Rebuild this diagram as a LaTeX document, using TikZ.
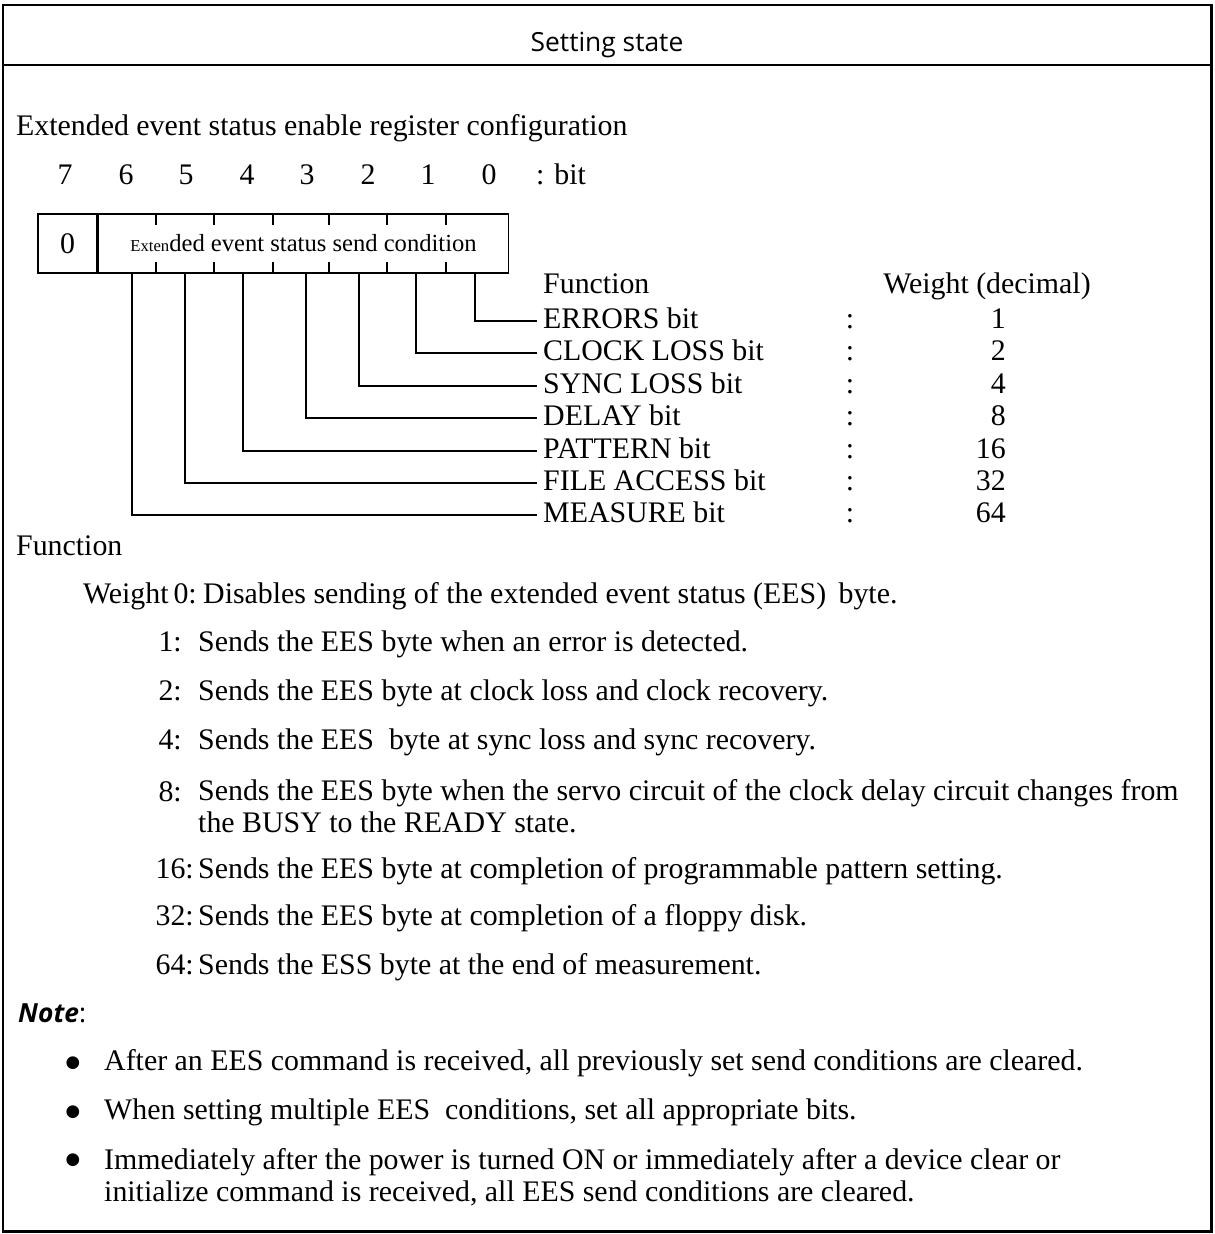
\documentclass[tikz,border=0pt]{standalone}
\usepackage{fontspec}
\setmainfont{Liberation Serif}
\newfontfamily\headfont{Open Sans}
\newfontfamily\symfont{DejaVu Sans}
\usetikzlibrary{positioning}

\begin{document}
\begin{tikzpicture}[x=0.02cm,y=-0.02cm,
  font=\fontsize{17}{19}\selectfont,
  frame/.style={line width=1.7pt},
  cell/.style={draw,line width=0.9pt,minimum height=1.18cm,inner sep=0pt},
  conn/.style={line width=0.9pt},
  tx/.style={text height=1.0em,text depth=0.14em},
  num/.style={tx},
  lbl/.style={tx,anchor=west},
  wnum/.style={tx,anchor=east},
  para/.style={anchor=west,align=left,font=\fontsize{17}{18.2}\selectfont},
  dot/.style={font=\symfont\fontsize{9.5}{10}\selectfont},
  ttl/.style={tx,font=\headfont\fontsize{15}{18}\selectfont}]

\useasboundingbox (0,0) rectangle (1214,1234);

% ---------- frame and title ----------
\draw[frame] (3,5) rectangle (1211,1231);
\draw[frame] (3,65) -- (1211,65);
\node[ttl] (title) at (607,44) {Setting state};

% ---------- register ----------
\node[lbl] (cfg) at (10,128) {Extended event status enable register configuration};
\node[num] (n7) at (65,177) {7};
\node[num] (n6) at (126,177) {6};
\node[num] (n5) at (186,177) {5};
\node[num] (n4) at (247,177) {4};
\node[num] (n3) at (307,177) {3};
\node[num] (n2) at (368,177) {2};
\node[num] (n1) at (428,177) {1};
\node[num] (n0) at (489,177) {0};
\node[lbl] (bitlbl) at (530,177) {: bit};

\node[cell,minimum width=1.18cm] (c7) at (67.5,243.5) {0};
\node[cell,minimum width=8.2cm,anchor=west,font=\fontsize{14}{16}\selectfont] (cond) at (c7.east)
  {{\fontsize{9.5}{11}\selectfont Exten}ded event status send condition};
\draw[conn] (156,214) -- ++(0,11) (214,214) -- ++(0,11) (273,214) -- ++(0,11)
  (329,214) -- ++(0,11) (387,214) -- ++(0,11) (446,214) -- ++(0,11);
\draw[conn] (156,273) -- ++(0,-11) (214,273) -- ++(0,-11) (273,273) -- ++(0,-11)
  (329,273) -- ++(0,-11) (387,273) -- ++(0,-11) (446,273) -- ++(0,-11);

% ---------- bit table ----------
\node[lbl] (fnhead) at (537,286) {Function};
\node[num] (wthead) at (987,286) {Weight (decimal)};

\node[lbl] (errors)  at (537,321) {ERRORS bit};
\node[lbl] (clock)   at (537,353) {CLOCK LOSS bit};
\node[lbl] (sync)    at (537,386) {SYNC LOSS bit};
\node[lbl] (delay)   at (537,418) {DELAY bit};
\node[lbl] (pattern) at (537,451) {PATTERN bit};
\node[lbl] (file)    at (537,483) {FILE ACCESS bit};
\node[lbl] (measure) at (537,515) {MEASURE bit};

\node[num] (k1) at (850,321) {:};
\node[num] (k2) at (850,353) {:};
\node[num] (k3) at (850,386) {:};
\node[num] (k4) at (850,418) {:};
\node[num] (k5) at (850,451) {:};
\node[num] (k6) at (850,483) {:};
\node[num] (k7) at (850,515) {:};

\node[wnum] (w1)  at (1012,321) {1};
\node[wnum] (w2)  at (1012,353) {2};
\node[wnum] (w4)  at (1012,386) {4};
\node[wnum] (w8)  at (1012,418) {8};
\node[wnum] (w16) at (1012,451) {16};
\node[wnum] (w32) at (1012,483) {32};
\node[wnum] (w64) at (1012,515) {64};

% connectors from the bits
\coordinate (s0) at (475,273);
\coordinate (s1) at (416,273);
\coordinate (s2) at (359,273);
\coordinate (s3) at (306,273);
\coordinate (s4) at (243,273);
\coordinate (s5) at (185,273);
\coordinate (s6) at (132,273);
\draw[conn] (s0) |- (errors.west);
\draw[conn] (s1) |- (clock.west);
\draw[conn] (s2) |- (sync.west);
\draw[conn] (s3) |- (delay.west);
\draw[conn] (s4) |- (pattern.west);
\draw[conn] (s5) |- (file.west);
\draw[conn] (s6) |- (measure.west);

% ---------- function ----------
\node[lbl] (fn) at (10,548) {Function};
\node[wnum] (f0)  at (203,596) {Weight\,0:};
\node[wnum] (f1)  at (188,644) {1:};
\node[wnum] (f2)  at (188,693) {2:};
\node[wnum] (f4)  at (188,742) {4:};
\node[wnum] (f8)  at (188,794) {8:};
\node[wnum] (f16) at (200,871) {16:};
\node[wnum] (f32) at (200,918) {32:};
\node[wnum] (f64) at (200,967) {64:};

\node[lbl] (d0)  at (197,596) {Disables sending of the extended event status (EES)\ \,byte.};
\node[lbl] (d1)  at (192,644) {Sends the EES byte when an error is detected.};
\node[lbl] (d2)  at (192,693) {Sends the EES byte at clock loss and clock recovery.};
\node[lbl] (d4)  at (192,742) {Sends the EES\ \ byte at sync loss and sync recovery.};
\node[para] (d8) at (192,806)
  {Sends the EES byte when the servo circuit of the clock delay circuit changes from\\
   the BUSY to the READY state.};
\node[lbl] (d16) at (192,871) {Sends the EES byte at completion of programmable pattern setting.};
\node[lbl] (d32) at (192,918) {Sends the EES byte at completion of a floppy disk.};
\node[lbl] (d64) at (192,967) {Sends the ESS byte at the end of measurement.};

% ---------- note ----------
\node[lbl] (note) at (12,1015) {{\headfont\fontsize{15}{17}\selectfont\bfseries\itshape Note}{\headfont\fontsize{15}{17}\selectfont:}};
\node[dot] (b1) at (73,1063) {●};
\node[dot] (b2) at (73,1112) {●};
\node[dot] (b3) at (73,1160) {●};
\node[lbl] (t1) at (98,1063) {After an EES command is received, all previously set send conditions are cleared.};
\node[lbl] (t2) at (98,1112) {When setting multiple EES\ \ conditions, set all appropriate bits.};
\node[para] (t3) at (98,1177)
  {Immediately after the power is turned ON or immediately after a device clear or\\
   initialize command is received, all EES send conditions are cleared.};
\end{tikzpicture}
\end{document}
